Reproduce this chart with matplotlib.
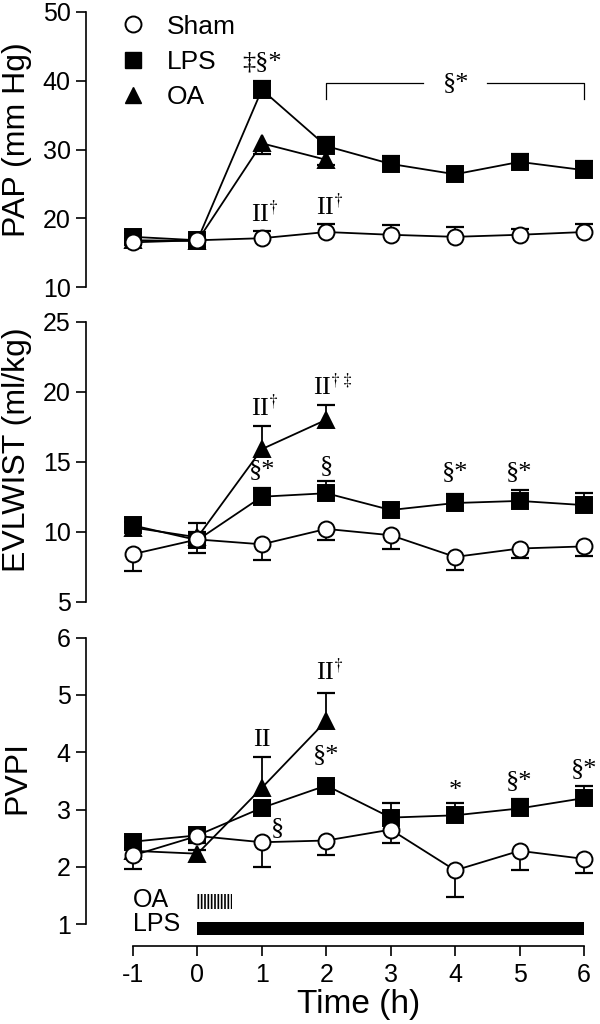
import matplotlib
matplotlib.use('Agg')
import matplotlib.pyplot as plt
from matplotlib.lines import Line2D

plt.rcParams['font.family'] = ['Liberation Sans', 'DejaVu Sans']
plt.rcParams['mathtext.fontset'] = 'stix'
plt.rcParams['hatch.linewidth'] = 1.2
plt.rcParams['axes.unicode_minus'] = False

# time points (h)
hours = [-1, 0, 1, 2, 3, 4, 5, 6]
oa_hours = [-1, 0, 1, 2]

# PAP (mm Hg)
pap_sham = [16.5, 16.8, 17.1, 18.0, 17.6, 17.3, 17.6, 18.0]
pap_sham_err = [0.6, 0.4, 1.1, 1.2, 1.4, 1.5, 0.9, 1.1]
pap_lps = [17.3, 16.8, 38.7, 30.5, 27.9, 26.4, 28.2, 27.0]
pap_lps_err = [0.6, 0.5, 1.2, 1.3, 1.1, 0.7, 1.2, 1.3]
pap_oa = [16.8, 16.7, 30.9, 28.5]
pap_oa_err = [0.4, 0.9, 1.5, 0.8]

# EVLWIST (ml/kg)
evlw_sham = [8.4, 9.45, 9.1, 10.2, 9.75, 8.2, 8.8, 8.95]
evlw_sham_err = [1.2, 0.95, 1.15, 0.8, 0.95, 0.9, 0.7, 0.65]
evlw_lps = [10.45, 9.4, 12.5, 12.75, 11.55, 12.05, 12.2, 11.9]
evlw_lps_err = [0.5, 0.6, 0.65, 0.85, 0.45, 0.65, 0.8, 0.9]
evlw_oa = [10.3, 9.6, 15.9, 18.0]
evlw_oa_err = [0.4, 1.0, 1.65, 1.05]

# PVPI
pvpi_sham = [2.2, 2.54, 2.43, 2.46, 2.65, 1.94, 2.28, 2.14]
pvpi_sham_err = [0.24, 0.12, 0.44, 0.25, 0.24, 0.46, 0.34, 0.25]
pvpi_lps = [2.44, 2.55, 3.03, 3.42, 2.86, 2.9, 3.02, 3.2]
pvpi_lps_err = [0.08, 0.05, 0.1, 0.05, 0.26, 0.22, 0.17, 0.22]
pvpi_oa = [2.28, 2.23, 3.38, 4.55]
pvpi_oa_err = [0.05, 0.06, 0.54, 0.48]

# significance marks (x, y, text)
pap_notes = [(1, 42.6, '‡§*'), (1.05, 20.6, r'II$^{\dagger}$'), (2.05, 21.6, r'II$^{\dagger}$')]
evlw_notes = [(1.05, 18.8, r'II$^{\dagger}$'), (2.1, 20.3, r'II$^{\dagger\ddagger}$'),
              (1, 14.4, '§*'), (2, 14.7, '§'), (4, 14.3, '§*'), (5, 14.3, '§*')]
pvpi_notes = [(1, 4.22, 'II'), (2.05, 5.4, r'II$^{\dagger}$'), (2, 3.95, '§*'),
              (1.24, 2.68, '§'), (4, 3.32, '*'), (5, 3.5, '§*'), (6, 3.7, '§*')]

# infusion periods
oa_period = (0, 0.54)
lps_period = (0, 6)

SERIF = ['Liberation Serif', 'DejaVu Serif']

fig = plt.figure(figsize=(6, 10.24), dpi=100)
ax1 = fig.add_axes([0.1433, 0.7197, 0.8515, 0.2686])
ax2 = fig.add_axes([0.1433, 0.4124, 0.8515, 0.2734])
ax3 = fig.add_axes([0.1433, 0.0762, 0.8515, 0.3011])


def draw_series(ax, x, y, err, up, marker, face, ms, z):
    sign = 1 if up else -1
    ends = [v + sign * e for v, e in zip(y, err)]
    ax.vlines(x, y, ends, color='black', lw=1.3, zorder=2)
    ax.plot(x, ends, ls='none', marker='_', ms=13, mew=1.6, color='black', zorder=2)
    ax.plot(x, y, color='black', lw=1.3, marker=marker, ms=ms, mfc=face,
            mec='black', mew=1.4, zorder=z, clip_on=False)


def style_axis(ax, lo, hi, ticks):
    for s in ['top', 'right', 'bottom']:
        ax.spines[s].set_visible(False)
    ax.spines['left'].set_bounds(lo, hi)
    ax.spines['left'].set_linewidth(1.2)
    ax.set_yticks(ticks)
    ax.tick_params(axis='y', length=7, width=1.2, labelsize=18, pad=4)
    ax.set_xticks([])
    ax.set_xlim(-1.73, 6.2)


def add_notes(ax, notes):
    for x, y, t in notes:
        ax.text(x, y, t, ha='center', va='center', fontsize=19, family=SERIF)


# PAP
draw_series(ax1, oa_hours, pap_oa, pap_oa_err, False, '^', 'black', 12, 3)
draw_series(ax1, hours, pap_lps, pap_lps_err, True, 's', 'black', 11, 4)
draw_series(ax1, hours, pap_sham, pap_sham_err, True, 'o', 'white', 11.5, 5)
style_axis(ax1, 10, 50, [10, 20, 30, 40, 50])
ax1.set_ylim(10, 50)
add_notes(ax1, pap_notes)
ax1.plot([2, 2, 3.5], [37.3, 39.7, 39.7], color='black', lw=0.9)
ax1.plot([4.5, 6, 6], [39.7, 39.7, 37.3], color='black', lw=0.9)
ax1.text(4.02, 39.7, '§*', ha='center', va='center', fontsize=19, family=SERIF)
handles = [Line2D([], [], ls='none', marker='o', ms=11.5, mfc='white', mec='black', mew=1.4),
           Line2D([], [], ls='none', marker='s', ms=11, mfc='black', mec='black'),
           Line2D([], [], ls='none', marker='^', ms=12, mfc='black', mec='black')]
ax1.legend(handles, ['Sham', 'LPS', 'OA'], loc='upper left', bbox_to_anchor=(0.066, 0.99),
           frameon=False, fontsize=19, handlelength=1.0, handletextpad=0.8,
           labelspacing=0.42, borderpad=0, borderaxespad=0)

# EVLWIST
draw_series(ax2, oa_hours, evlw_oa, evlw_oa_err, True, '^', 'black', 12, 3)
draw_series(ax2, hours, evlw_lps, evlw_lps_err, True, 's', 'black', 11, 4)
draw_series(ax2, hours, evlw_sham, evlw_sham_err, False, 'o', 'white', 11.5, 5)
style_axis(ax2, 5, 25, [5, 10, 15, 20, 25])
ax2.set_ylim(5, 25)
add_notes(ax2, evlw_notes)

# PVPI
draw_series(ax3, oa_hours, pvpi_oa, pvpi_oa_err, True, '^', 'black', 12, 4)
draw_series(ax3, hours, pvpi_lps, pvpi_lps_err, True, 's', 'black', 11, 3)
draw_series(ax3, hours, pvpi_sham, pvpi_sham_err, False, 'o', 'white', 11.5, 5)
style_axis(ax3, 1, 6, [1, 2, 3, 4, 5, 6])
ax3.set_ylim(0.62, 6)
add_notes(ax3, pvpi_notes)
ax3.spines['bottom'].set_visible(True)
ax3.spines['bottom'].set_bounds(-1, 6)
ax3.spines['bottom'].set_linewidth(1.2)
ax3.set_xticks(hours)
ax3.tick_params(axis='x', length=7, width=1.2, labelsize=18, pad=5)
ax3.barh(1.40, oa_period[1] - oa_period[0], left=oa_period[0], height=0.26,
         color='white', edgecolor='black', hatch='|||||', lw=0)
ax3.barh(0.925, lps_period[1] - lps_period[0], left=lps_period[0], height=0.23,
         color='black')
ax3.text(-1, 1.42, 'OA', ha='left', va='center', fontsize=18)
ax3.text(-1, 1.0, 'LPS', ha='left', va='center', fontsize=18)

# axis titles
fig.text(17 / 600, 1 - 140 / 1024, 'PAP (mm Hg)', rotation=90, ha='center', va='center', fontsize=23)
fig.text(17 / 600, 1 - 450 / 1024, 'EVLWIST (ml/kg)', rotation=90, ha='center', va='center', fontsize=23)
fig.text(17 / 600, 1 - 778 / 1024, 'PVPI', rotation=90, ha='center', va='center', fontsize=23)
fig.text(359 / 600, 1 - 1004 / 1024, 'Time (h)', ha='center', va='center', fontsize=24)

fig.savefig('out.png', dpi=100)
